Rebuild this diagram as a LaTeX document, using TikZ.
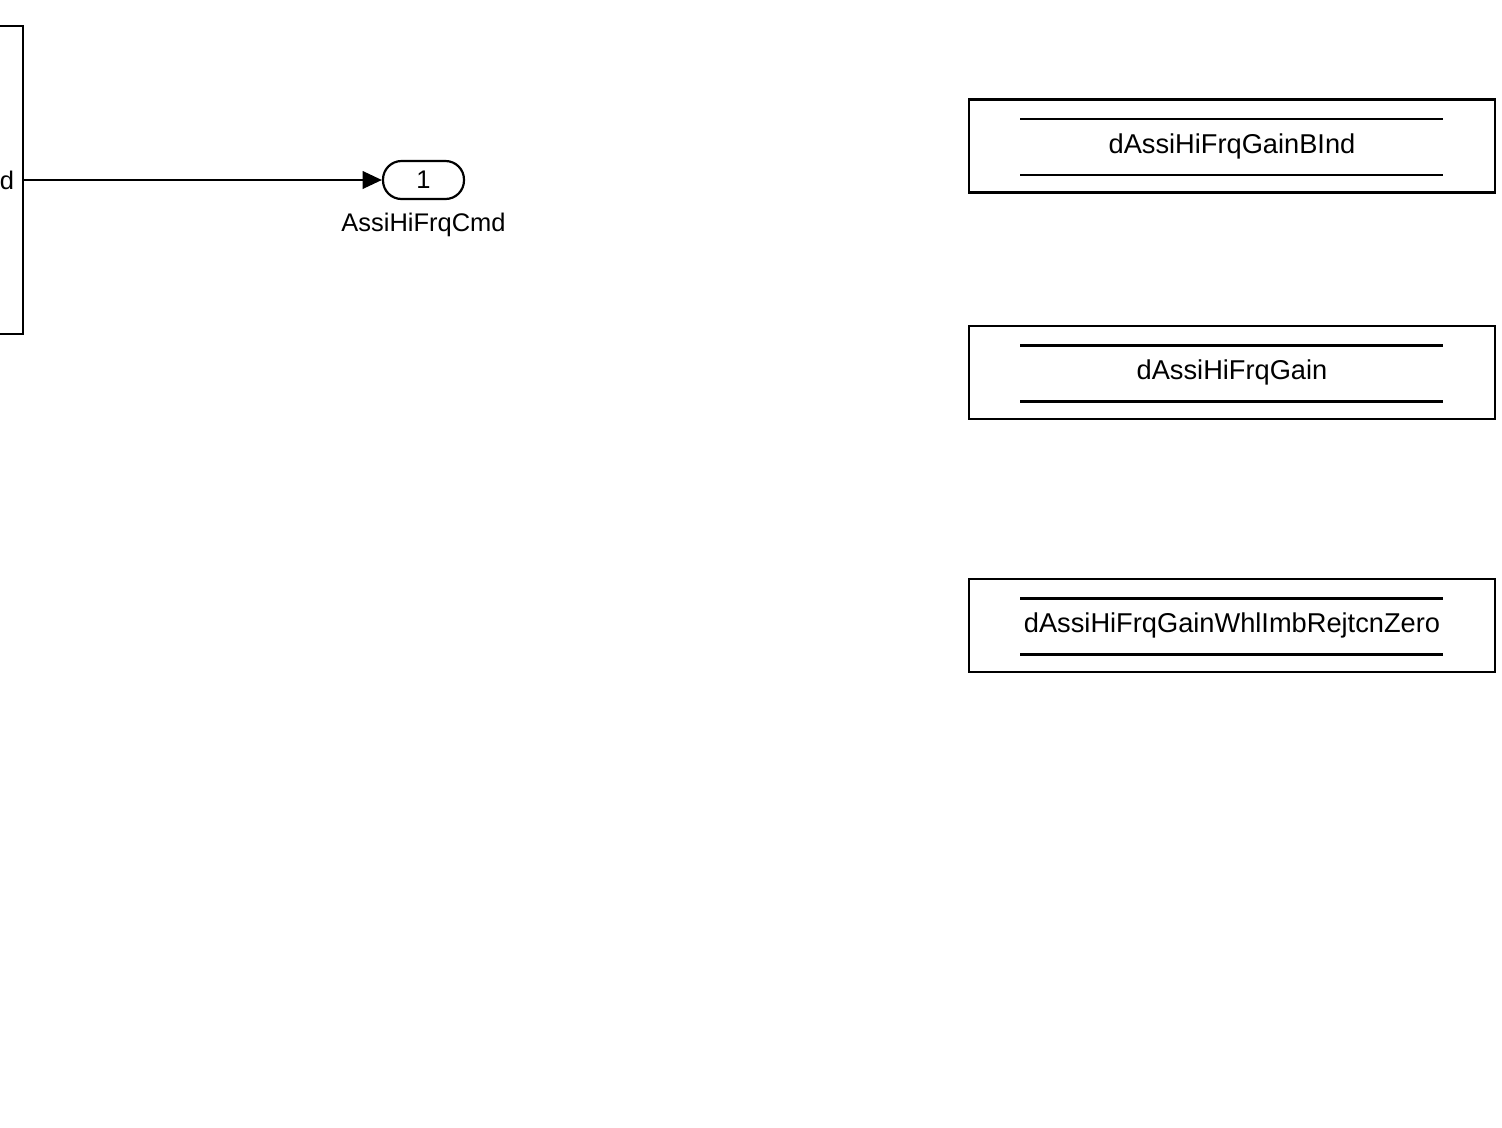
\documentclass[tikz,border=0pt]{standalone}
\usepackage{fontspec}
\setmainfont{Liberation Sans}
\usetikzlibrary{positioning}
\usetikzlibrary{arrows.meta}

\begin{document}
\begin{tikzpicture}[
        % one unit is one pixel of the reference
        x=0.02cm, y=-0.02cm,
        line width=1.25pt, >={Triangle[length=11pt, width=10pt]},
        subsysblock/.style={
            draw,
            rectangle,
            minimum width=4cm,
            minimum height=6.16cm,
            inner sep=0pt
        },
        outportblock/.style={
            draw,
            rectangle,
            rounded corners=0.37cm,
            minimum width=1.62cm,
            minimum height=0.76cm,
            font=\fontsize{14.5}{17}\selectfont,
            inner sep=0pt
        },
        portlabel/.style={
            font=\fontsize{14.5}{17}\selectfont,
            inner sep=1pt
        },
        dsmblock/.style={
            draw,
            rectangle,
            minimum width=10.52cm,
            minimum height=1.86cm,
            font=\fontsize{15.5}{18}\selectfont,
            inner sep=0pt
        }
        ]

        \useasboundingbox (0,0) rectangle (1502,1127);

        % subsystem on the left, cut by the page edge
        \node [subsysblock, anchor=north east] (subsys) at (24,25) {};
        \coordinate (subsys_port) at (subsys.east |- 0,180);
        \node [portlabel, anchor=east, xshift=-0.14cm] (subsys_out) at (subsys_port) {d};

        % outport
        \node [outportblock] (out1) at (423.5,180) {1};
        \node [portlabel, below=0.2cm of out1] (out1_name) {AssiHiFrqCmd};
        \draw[->] (subsys_port) -- (out1.west);

        % data store memory blocks
        \node [dsmblock] (dsm_bind) at (1232,146) {dAssiHiFrqGainBInd};
        \node [dsmblock] (dsm_gain) at (1232,372.5) {dAssiHiFrqGain};
        \node [dsmblock] (dsm_zero) at (1232,625.5) {dAssiHiFrqGainWhlImbRejtcnZero};

        \foreach \blk in {dsm_bind, dsm_gain, dsm_zero} {
            \draw ([xshift=-4.24cm, yshift=0.54cm]\blk.center) -- ([xshift=4.22cm, yshift=0.54cm]\blk.center);
            \draw ([xshift=-4.24cm, yshift=-0.58cm]\blk.center) -- ([xshift=4.22cm, yshift=-0.58cm]\blk.center);
        }
        \end{tikzpicture}
\end{document}
